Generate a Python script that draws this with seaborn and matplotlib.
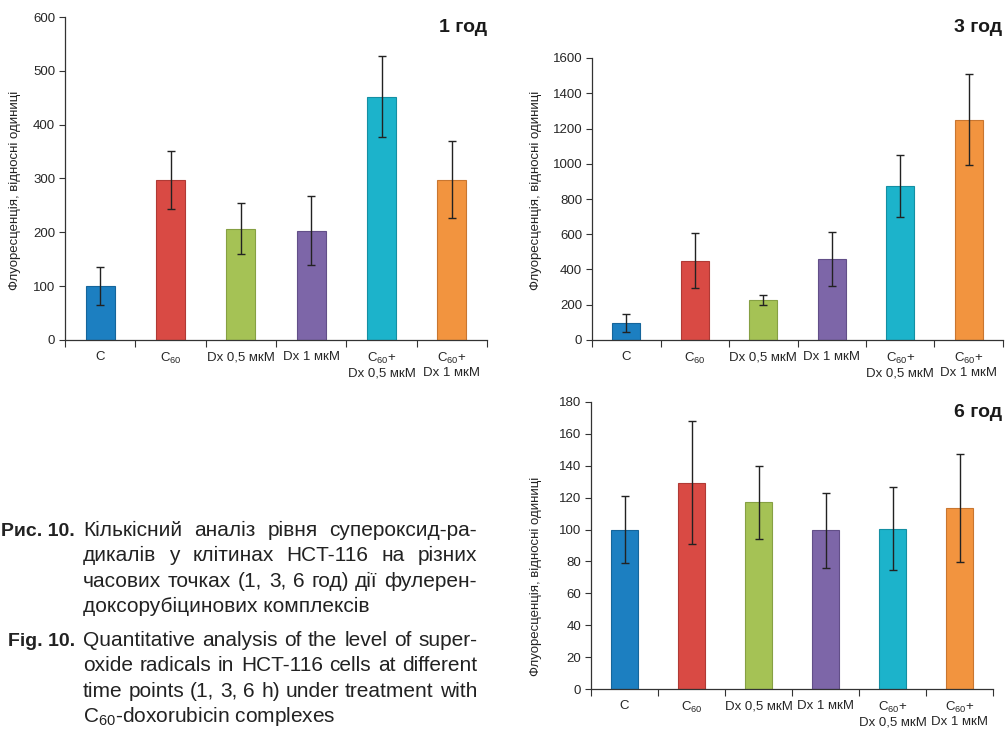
import numpy as np
import pandas as pd
import matplotlib
matplotlib.use("Agg")
import matplotlib.pyplot as plt
import seaborn as sns

# ---------------- data ----------------
categories = ["C", "C$_{60}$", "Dx 0,5 мкМ", "Dx 1 мкМ",
              "C$_{60}$+\nDx 0,5 мкМ", "C$_{60}$+\nDx 1 мкМ"]
values_1h = [100, 297, 207, 203, 452, 298]
errors_1h = [35, 54, 47, 64, 75, 71]
values_3h = [95, 450, 228, 460, 875, 1250]
errors_3h = [50, 155, 30, 152, 175, 258]
values_6h = [100, 129.5, 117, 99.5, 100.5, 113.5]
errors_6h = [21, 38.5, 23, 23.5, 26, 34]
titles = ["1 год", "3 год", "6 год"]
ylims = [600, 1600, 180]
ysteps = [100, 200, 20]
ylabel = "Флуоресценція, відносні одиниці"
bar_colors = ["#1c7fc1", "#d94a44", "#a5c255", "#7d66a8", "#1cb3cb", "#f2943f"]
edge_colors = ["#15659b", "#b03a35", "#86a043", "#624f88", "#148fa3", "#c97630"]

caption_ua_label = "Рис. 10."
caption_ua = ["Кількісний аналіз рівня супероксид-ра-",
              "дикалів у клітинах HCT-116 на різних",
              "часових точках (1, 3, 6 год) дії фулерен-",
              "доксорубіцинових комплексів"]
caption_en_label = "Fig. 10."
caption_en = ["Quantitative analysis of the level of super-",
              "oxide radicals in HCT-116 cells at different",
              "time points (1, 3, 6 h) under treatment with",
              "C$_{60}$-doxorubicin complexes"]

# ---------------- style ----------------
sns.set_style("white")
plt.rcParams["font.family"] = ["Liberation Sans", "DejaVu Sans"]
plt.rcParams["mathtext.fontset"] = "custom"
plt.rcParams["mathtext.rm"] = "Liberation Sans"
plt.rcParams["mathtext.it"] = "Liberation Sans:italic"
plt.rcParams["mathtext.bf"] = "Liberation Sans:bold"

W, H = 1006, 729
fig = plt.figure(figsize=(W / 100, H / 100), dpi=100)
fig.patch.set_facecolor("white")


def px_axes(left, right, top, bottom):
    return fig.add_axes([left / W, 1 - bottom / H, (right - left) / W, (bottom - top) / H])


panels = [
    dict(rect=(65, 487, 17, 340), vals=values_1h, errs=errors_1h, title_xy=(487, 27), ylab_xy=(15, 190)),
    dict(rect=(592, 1003, 58, 340), vals=values_3h, errs=errors_3h, title_xy=(1002, 27), ylab_xy=(536, 190)),
    dict(rect=(591, 993, 402, 689), vals=values_6h, errs=errors_6h, title_xy=(1002, 412), ylab_xy=(536, 576)),
]

for i, p in enumerate(panels):
    ax = px_axes(*p["rect"])
    df = pd.DataFrame({"cat": categories, "val": p["vals"]})
    sns.barplot(data=df, x="cat", y="val", hue="cat", palette=bar_colors, legend=False,
                saturation=1, width=0.41, ax=ax, errorbar=None)
    for patch, ec in zip(ax.patches, edge_colors):
        patch.set_edgecolor(ec)
        patch.set_linewidth(0.8)
    ax.errorbar(np.arange(len(categories)), p["vals"], yerr=p["errs"], fmt="none",
                ecolor="#222222", elinewidth=1.0, capsize=3, capthick=1.0, zorder=5)
    ax.set_xlim(-0.5, len(categories) - 0.5)
    ax.set_ylim(0, ylims[i])
    ax.set_yticks(np.arange(0, ylims[i] + 1, ysteps[i]))
    ax.tick_params(axis="y", direction="out", length=4, width=0.8, color="#333333",
                   labelsize=9.5, pad=3, left=True)
    ax.set_xticks(np.arange(-0.5, len(categories), 1.0))
    ax.set_xticklabels([])
    ax.set_xticks(np.arange(len(categories)), labels=categories, minor=True)
    ax.tick_params(axis="x", which="major", direction="out", length=5, width=0.8,
                   color="#333333", bottom=True)
    ax.tick_params(axis="x", which="minor", length=0, labelsize=9.5, pad=8)
    for lab in ax.get_xticklabels(minor=True):
        lab.set_linespacing(1.1)
    ax.set_xlabel("")
    ax.set_ylabel("")
    sns.despine(ax=ax)
    for s in ("left", "bottom"):
        ax.spines[s].set_color("#333333")
        ax.spines[s].set_linewidth(0.9)
    ax.set_facecolor("none")
    fig.text(p["title_xy"][0] / W, 1 - p["title_xy"][1] / H, titles[i], ha="right",
             va="center", fontsize=14, fontweight="bold", color="#1a1a1a")
    fig.text(p["ylab_xy"][0] / W, 1 - p["ylab_xy"][1] / H, ylabel, rotation=90,
             ha="center", va="center", fontsize=9.5, color="#222222")

# ---------------- caption (justified) ----------------
renderer = fig.canvas.get_renderer()
fs = 15
label_fs = 14
txt_color = "#222222"
text_left, text_right = 83, 477
label_right = 75


def line_out(y, text, justify):
    if not justify:
        fig.text(text_left / W, 1 - y / H, text, ha="left", va="baseline",
                 fontsize=fs, color=txt_color)
        return
    words = text.split(" ")
    widths = []
    for w in words:
        t = fig.text(0, 0, w, fontsize=fs)
        widths.append(t.get_window_extent(renderer).width)
        t.remove()
    gap = (text_right - text_left - sum(widths)) / (len(words) - 1)
    x = text_left
    for w, wd in zip(words, widths):
        fig.text(x / W, 1 - y / H, w, ha="left", va="baseline", fontsize=fs, color=txt_color)
        x += wd + gap


def paragraph(label, lines, y0, step):
    fig.text(label_right / W, 1 - y0 / H, label, ha="right", va="baseline",
             fontsize=label_fs, fontweight="bold", color=txt_color)
    for k, line in enumerate(lines):
        line_out(y0 + k * step, line, justify=(k < len(lines) - 1))


paragraph(caption_ua_label, caption_ua, 536, 25.3)
paragraph(caption_en_label, caption_en, 646, 25.3)

fig.savefig("out.png", dpi=100)
